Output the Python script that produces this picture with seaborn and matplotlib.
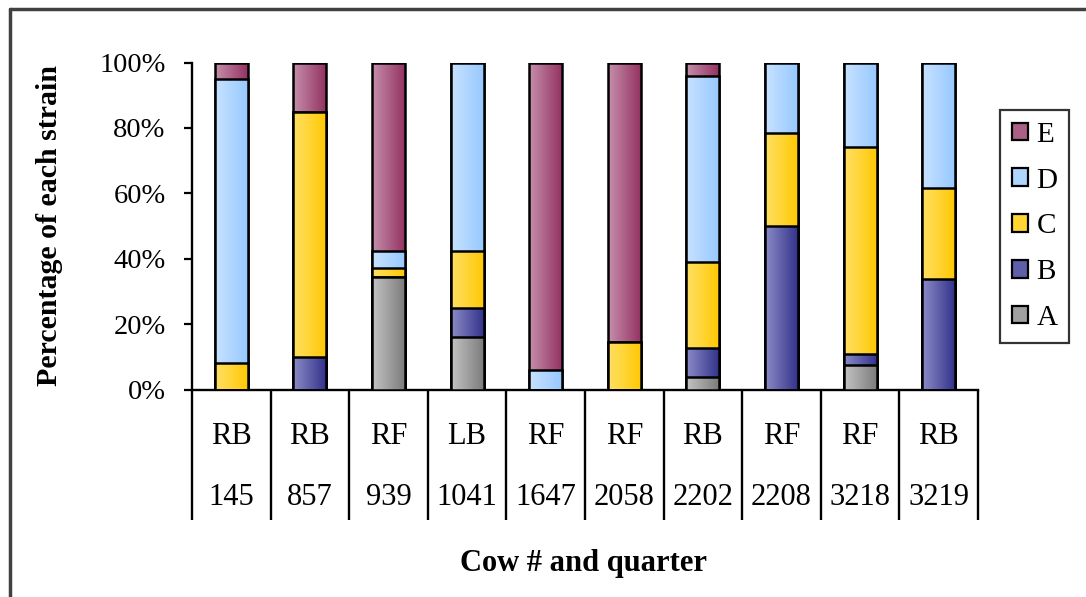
import numpy as np
import pandas as pd
import matplotlib
matplotlib.use("Agg")
import matplotlib.pyplot as plt
from matplotlib.colors import LinearSegmentedColormap
from matplotlib.lines import Line2D
from matplotlib.patches import Patch
import seaborn as sns

# Cow numbers and udder quarters
cows = ["145", "857", "939", "1041", "1647", "2058", "2202", "2208", "3218", "3219"]
quarters = ["RB", "RB", "RF", "LB", "RF", "RF", "RB", "RF", "RF", "RB"]

# Percentage of each strain per cow/quarter
strain_a = [0, 0, 34.3, 16.0, 0, 0, 3.9, 0, 7.5, 0]
strain_b = [0, 10.0, 0, 8.8, 0, 0, 8.9, 50.0, 3.3, 33.7]
strain_c = [8.0, 75.0, 2.8, 17.6, 0, 14.6, 26.3, 28.3, 63.5, 27.8]
strain_d = [87.0, 0, 5.3, 57.6, 6.0, 0, 56.8, 21.7, 25.7, 38.5]
strain_e = [5.0, 15.0, 57.6, 0, 94.0, 85.4, 4.1, 0, 0, 0]

strains = ["A", "B", "C", "D", "E"]
values = [strain_a, strain_b, strain_c, strain_d, strain_e]

# light (left) -> dark (right) gradient colours per strain
gradients = {
    "A": ("#c4c4c4", "#7a7a7a"),
    "B": ("#8c8cc8", "#30308a"),
    "C": ("#ffe066", "#ffc800"),
    "D": ("#c8e2ff", "#96c8ff"),
    "E": ("#c690ac", "#923060"),
}
mid = {k: LinearSegmentedColormap.from_list(k, v)(0.5) for k, v in gradients.items()}

sns.set_theme(style="white")
plt.rcParams["font.family"] = ["Liberation Serif", "DejaVu Serif"]
plt.rcParams["text.color"] = "black"
plt.rcParams["xtick.color"] = "black"
plt.rcParams["ytick.color"] = "black"

W, H = 1086, 597
fig = plt.figure(figsize=(W / 100, H / 100), dpi=100)
ax = fig.add_axes([192 / W, 1 - 389.5 / H, 786 / W, 327 / H])

df = pd.DataFrame({"cow": cows})
cum = np.zeros(len(cows))
cums = []
for s, v in zip(strains, values):
    cum = cum + np.array(v)
    cums.append(cum.copy())

# draw cumulative bars from the tallest (A..E total) down to A, each over the last
grad = np.linspace(0, 1, 256).reshape(1, -1)
z = 3
for s, c in reversed(list(zip(strains, cums))):
    d = df.assign(val=c)
    n_before = len(ax.patches)
    sns.barplot(data=d, x="cow", y="val", ax=ax, color=mid[s], width=0.42,
                edgecolor="black", linewidth=1.8, saturation=1, order=cows)
    cmap = LinearSegmentedColormap.from_list(s, gradients[s])
    for p in ax.patches[n_before:]:
        x0, y0 = p.get_x(), p.get_y()
        w, h = p.get_width(), p.get_height()
        p.set_facecolor("none")
        p.set_zorder(z + 1)
        if h > 0:
            im = ax.imshow(grad, cmap=cmap, aspect="auto",
                           extent=[x0, x0 + w, y0, y0 + h], zorder=z,
                           interpolation="bilinear")
            im.set_clip_path(p)
    z += 2

ax.set_xlim(-0.5, len(cows) - 0.5)
ax.set_ylim(0, 100)
ax.set_xlabel("")
ax.set_ylabel("")

# y axis
ax.set_yticks([0, 20, 40, 60, 80, 100])
ax.set_yticklabels([f"{t}%" for t in [0, 20, 40, 60, 80, 100]], fontsize=20.5)
ax.tick_params(axis="y", direction="out", length=6, width=1.6, pad=13, left=True, colors="black")

# x axis drawn as a table of quarter / cow labels with long separator ticks
ax.set_xticks(np.arange(len(cows)))
ax.set_xticklabels([])
ax.set_xticks(np.arange(len(cows) + 1) - 0.5, minor=True)
ax.tick_params(axis="x", which="major", length=0)
ax.tick_params(axis="x", which="minor", direction="out", length=130 * 0.72, width=1.7,
               bottom=True, color="black")
for i, (q, c) in enumerate(zip(quarters, cows)):
    ax.text(i, -47 / 327 * 100, q, ha="center", va="center", fontsize=22,
            transform=ax.transData, clip_on=False)
    ax.text(i, -108 / 327 * 100, c, ha="center", va="center", fontsize=22,
            transform=ax.transData, clip_on=False)

for side in ["top", "right"]:
    ax.spines[side].set_visible(False)
for side in ["left", "bottom"]:
    ax.spines[side].set_color("black")
    ax.spines[side].set_linewidth(1.7)

fig.text(50 / W, 1 - 225 / H, "Percentage of each strain", rotation=90,
         ha="center", va="center", fontsize=21.5, fontweight="bold")
fig.text(583 / W, 1 - 563 / H, "Cow # and quarter", ha="center", va="center",
         fontsize=22, fontweight="bold")

handles = [Patch(facecolor=mid[s], edgecolor="black", linewidth=1.6, label=s)
           for s in reversed(strains)]
leg = fig.legend(handles=handles, loc="upper left",
                 bbox_to_anchor=(1000 / W, 1 - 110 / H), fontsize=21,
                 frameon=True, fancybox=False, edgecolor="black",
                 handlelength=0.55, handleheight=0.55, handletextpad=0.3,
                 labelspacing=0.68, borderpad=0.4, borderaxespad=0)
leg.get_frame().set_linewidth(1.6)

# outer chart frame (top and left edges)
fig.add_artist(Line2D([10 / W, 1], [1 - 9 / H, 1 - 9 / H], color="#404040", lw=2.5,
                      transform=fig.transFigure))
fig.add_artist(Line2D([10 / W, 10 / W], [0, 1 - 9 / H], color="#404040", lw=2.5,
                      transform=fig.transFigure))

fig.savefig("out.png", dpi=100, facecolor="white")
